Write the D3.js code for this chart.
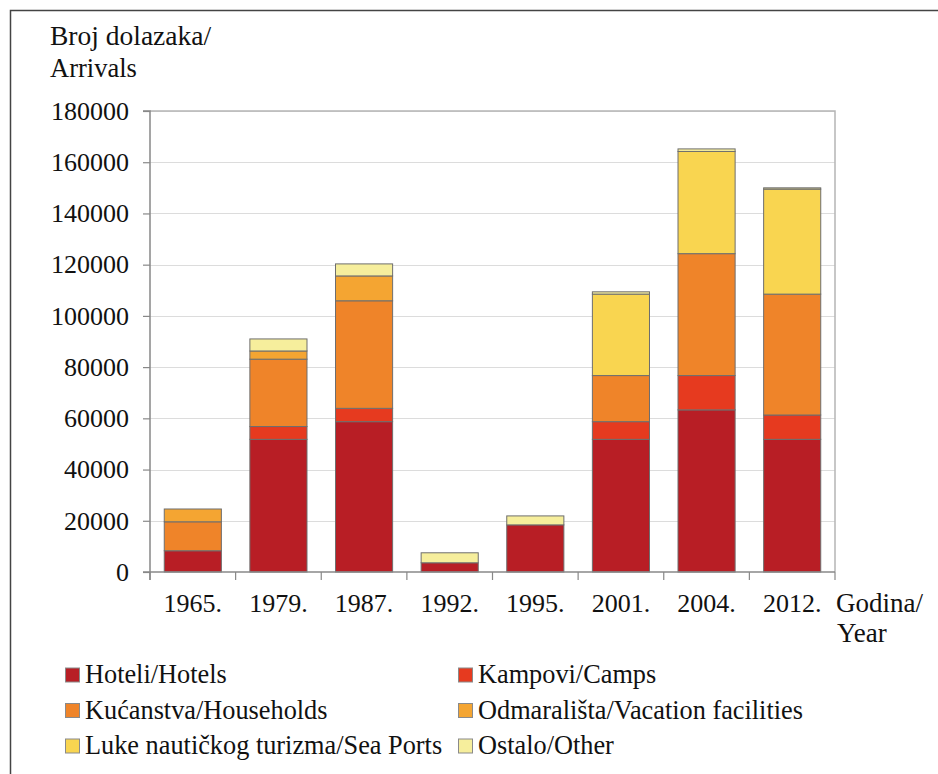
<!DOCTYPE html>
<html><head><meta charset="utf-8">
<script src="https://cdn.jsdelivr.net/npm/d3@7/dist/d3.min.js"></script>
<style>body{margin:0;background:#fff}svg{display:block}</style>
</head><body><svg id="c" width="938" height="774"></svg>
<script>
const categories = ["1965.","1979.","1987.","1992.","1995.","2001.","2004.","2012."];
const hotels     = [8300, 51800, 58700, 3600, 18400, 51800, 63300, 51800];
const camps      = [0, 5000, 5200, 0, 0, 6900, 13400, 9500];
const households = [11300, 26300, 42000, 0, 0, 18000, 47600, 47200];
const vacation   = [5000, 3200, 9700, 0, 0, 0, 0, 0];
const seaPorts   = [0, 0, 0, 0, 0, 31800, 39900, 41000];
const other      = [0, 4700, 4700, 3900, 3500, 900, 1000, 500];
const yTicks = [0,20000,40000,60000,80000,100000,120000,140000,160000,180000];
const seriesNames = ["Hoteli/Hotels","Kampovi/Camps","Kućanstva/Households","Odmarališta/Vacation facilities","Luke nautičkog turizma/Sea Ports","Ostalo/Other"];
const seriesColors = ["#B81E25","#E63A1F","#EF8429","#F4A532","#F9D550","#F6EE9C"];
const seriesData = [hotels,camps,households,vacation,seaPorts,other];

const FONT = '"Liberation Serif", "Times New Roman", serif';
const svg = d3.select("#c");
const keys = d3.range(seriesNames.length);
const table = categories.map((c,i)=>{const o={cat:c}; keys.forEach(k=>o[k]=seriesData[k][i]); return o;});
const stack = d3.stack().keys(keys)(table);

const x = d3.scaleBand().domain(categories).range([150,835]).paddingInner(0.333).paddingOuter(0.1665);
const y = d3.scaleLinear().domain([0,180000]).range([572,111]);

// outer frame (left and top only visible)
svg.append("path").attr("d","M10.5,774 V10.5 H938").attr("fill","none").attr("stroke","#444").attr("stroke-width",1.5);

// gridlines
svg.append("g").selectAll("line").data(yTicks.slice(1)).join("line")
  .attr("x1",150).attr("x2",835).attr("y1",d=>Math.round(y(d))+0.5).attr("y2",d=>Math.round(y(d))+0.5)
  .attr("stroke","#dcdcdc").attr("stroke-width",1.2);
svg.append("path").attr("d",`M150,${y(180000)} H835 V${y(0)}`).attr("fill","none").attr("stroke","#b5b5b5").attr("stroke-width",1.5);

// bars
svg.append("g").selectAll("g").data(stack).join("g")
  .attr("fill",(d,i)=>seriesColors[i])
  .selectAll("rect").data(d=>d.filter(s=>s[1]-s[0]>0)).join("rect")
  .attr("x",d=>x(d.data.cat)).attr("width",x.bandwidth())
  .attr("y",d=>y(d[1])).attr("height",d=>y(d[0])-y(d[1]))
  .attr("stroke","#6e6e6e").attr("stroke-width",1);

// y axis
const yAxis = d3.axisLeft(y).tickValues(yTicks).tickSize(7).tickPadding(14).tickFormat(d3.format("d"));
const gy = svg.append("g").attr("transform","translate(150,0)").call(yAxis);
gy.attr("font-family",FONT).attr("font-size",26);
gy.select(".domain").attr("stroke","#888").attr("stroke-width",1.5).attr("d",`M-7,${y(180000)}H0V${y(0)+8}`);
gy.selectAll(".tick line").attr("stroke","#888").attr("stroke-width",1.2);
gy.selectAll("text").attr("fill","#111");

// x axis
const gx = svg.append("g").attr("transform",`translate(0,${y(0)})`);
gx.append("line").attr("x1",143).attr("x2",835).attr("stroke","#888").attr("stroke-width",1.5);
const step = x.step();
gx.selectAll("line.t").data(d3.range(categories.length+1)).join("line").attr("class","t")
  .attr("x1",i=>150+i*step).attr("x2",i=>150+i*step).attr("y1",0).attr("y2",8)
  .attr("stroke","#888").attr("stroke-width",1.2);
gx.selectAll("text").data(categories).join("text")
  .attr("x",d=>x(d)+x.bandwidth()/2).attr("y",40).attr("text-anchor","middle")
  .attr("font-family",FONT).attr("font-size",26).attr("fill","#111").text(d=>d);

function label(xp,yp,t,fs){svg.append("text").attr("x",xp).attr("y",yp).attr("font-family",FONT).attr("font-size",fs).attr("fill","#111").text(t);}
label(50,45,"Broj dolazaka/",27.5);
label(50,77,"Arrivals",26.5);
label(836,612,"Godina/",27);
label(837,642,"Year",27);

// legend
const lg = svg.append("g").selectAll("g").data(seriesNames).join("g")
  .attr("transform",(d,i)=>`translate(${i%2===0?65:458},${683+Math.floor(i/2)*35.5})`);
lg.append("rect").attr("x",0.5).attr("y",-15).attr("width",14).attr("height",14)
  .attr("fill",(d,i)=>seriesColors[i]).attr("stroke","#8a8a8a").attr("stroke-width",1);
lg.append("text").attr("x",20).attr("y",0).attr("font-family",FONT).attr("font-size",26.3).attr("fill","#111").text(d=>d);
</script></body></html>
